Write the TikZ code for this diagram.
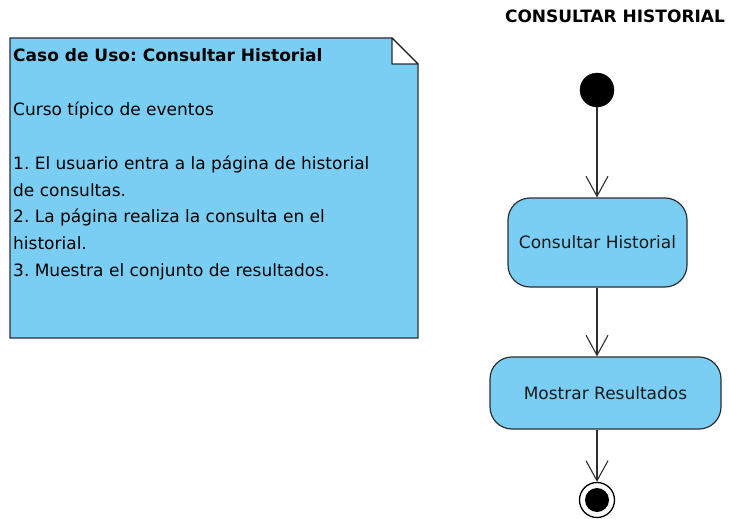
\documentclass[tikz,border=0pt]{standalone}
\usepackage{fontspec}
\setmainfont{DejaVu Sans}
\usetikzlibrary{arrows.meta}
\frenchspacing
\definecolor{umlblue}{HTML}{7ACEF4}
\definecolor{umledge}{HTML}{2E2E2E}
\tikzset{
  notetext/.style={anchor=base west, inner sep=0pt, font=\fontsize{17}{20}\selectfont},
  activity/.style={draw=umledge, line width=1.2pt, fill=umlblue, rounded corners=22pt,
    font=\fontsize{17}{20}\selectfont, text=black!90, inner sep=0pt},
  flow/.style={draw=umledge, line width=1.1pt, -{Straight Barb[length=20pt,width=22pt,line width=1.1pt]}},
}
\begin{document}
\begin{tikzpicture}[x=1pt,y=-1pt]
\useasboundingbox (0,0) rectangle (729,519);
% note
\draw[umledge, line width=1.2pt, fill=umlblue] (10,38) -- (392,38) -- (418,64) -- (418,338) -- (10,338) -- cycle;
\draw[umledge, line width=1.2pt, fill=white, line join=round] (392,38) -- (392,64) -- (418,64) -- cycle;
\node[notetext, font=\fontsize{17}{20}\selectfont\bfseries] (ntitle) at (13,62) {Caso de Uso: Consultar Historial};
\node[notetext] (n0) at (13,116) {Curso típico de eventos};
\node[notetext] (n1) at (13,169.5) {1. El usuario entra a la página de historial};
\node[notetext] (n2) at (13,196) {de consultas.};
\node[notetext] (n3) at (13,222.7) {2. La página realiza la consulta en el};
\node[notetext] (n4) at (13,249.3) {historial.};
\node[notetext] (n5) at (13,276) {3. Muestra el conjunto de resultados.};
% diagram title
\node[anchor=base, inner sep=0pt, font=\fontsize{17}{20}\selectfont\bfseries] (dtitle) at (615,23) {CONSULTAR HISTORIAL};
% nodes
\node[circle, fill=black, draw=black, minimum size=34pt, inner sep=0pt] (init) at (597,90) {};
\node[activity, minimum width=179pt, minimum height=89pt] (act1) at (597.5,242.5) {Consultar Historial};
\node[activity, minimum width=231pt, minimum height=72pt] (act2) at (605.5,393) {Mostrar Resultados};
\node[circle, fill=white, draw=black, line width=1.3pt, minimum size=35pt, inner sep=0pt] (final) at (597,500) {};
\node[circle, fill=black, minimum size=24pt, inner sep=0pt] (finalin) at (final.center) {};
% flows
\draw[flow] (init.south) -- (act1.north -| init.south);
\draw[flow] (act1.south -| init.south) -- (act2.north -| init.south);
\draw[flow] (act2.south -| final.north) -- (final.north);
\end{tikzpicture}
\end{document}
